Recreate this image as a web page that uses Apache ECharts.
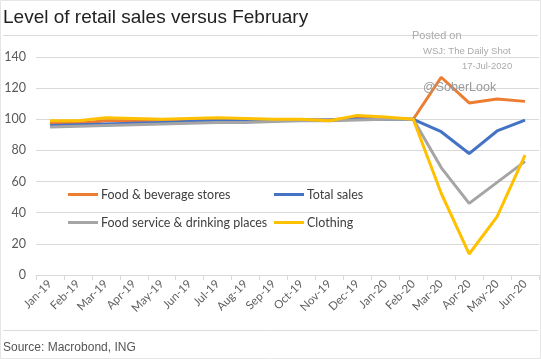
<!DOCTYPE html>
<html><head><meta charset="utf-8">
<script src="https://cdn.jsdelivr.net/npm/echarts@6/dist/echarts.min.js"></script>
<style>html,body{margin:0;padding:0;background:#fff}#c{width:541px;height:359px}</style>
</head><body><div id="c"></div>
<script>
const categories = ['Jan-19','Feb-19','Mar-19','Apr-19','May-19','Jun-19','Jul-19','Aug-19','Sep-19','Oct-19','Nov-19','Dec-19','Jan-20','Feb-20','Mar-20','Apr-20','May-20','Jun-20'];
const foodBeverage = [98, 97.5, 99, 99, 99.5, 99.5, 100, 100, 99.5, 99.5, 99.5, 101, 100.5, 100, 127, 110.5, 113, 111.5];
const totalSales = [96, 96.5, 97, 97.5, 98, 98.5, 99, 99, 99, 99.5, 99.5, 100, 100, 100, 92, 78, 92.5, 99.5];
const foodService = [95, 95.5, 96, 96.5, 97, 97.5, 98, 98, 98.5, 99, 99, 99.5, 100, 100, 69, 46, 59.5, 73];
const clothing = [99, 99, 101, 100.5, 100, 100.5, 101, 100.5, 100, 100, 99, 102.5, 101.5, 100, 52.5, 13.5, 37.5, 77];
const yTicks = [0, 20, 40, 60, 80, 100, 120, 140];

const FONT = 'Lato';
const chart = echarts.init(document.getElementById('c'), null, {renderer: 'canvas'});
function leg(name, left, top) {
  return {data: [name], left: left, top: top, icon: 'rect', itemWidth: 30, itemHeight: 3,
    itemGap: 0, padding: 0, selectedMode: false,
    textStyle: {fontFamily: FONT, fontSize: 12.5, color: '#404040', padding: [0, 0, 0, -2]}};
}
function ser(name, data, color) {
  return {name: name, type: 'line', data: data, symbol: 'none', color: color,
    lineStyle: {width: 3, color: color}, animation: false};
}
chart.setOption({
  animation: false,
  grid: {left: 36, right: 2, top: 57, bottom: 84},
  legend: [
    leg('Food & beverage stores', 68, 188),
    leg('Total sales', 274, 188),
    leg('Food service & drinking places', 68, 216),
    leg('Clothing', 274, 216)
  ],
  xAxis: {
    type: 'category', data: categories, boundaryGap: true,
    axisLine: {lineStyle: {color: '#d9d9d9', width: 1}},
    axisTick: {show: true, length: 5, lineStyle: {color: '#d9d9d9'}},
    axisLabel: {rotate: 45, interval: 0, fontFamily: FONT, fontSize: 11.5, color: '#5f5f5f', margin: 7}
  },
  yAxis: {
    type: 'value', min: yTicks[0], max: yTicks[yTicks.length - 1], interval: 20,
    axisLine: {show: false}, axisTick: {show: false},
    axisLabel: {fontFamily: FONT, fontSize: 12.5, color: '#595959', margin: 10},
    splitLine: {lineStyle: {color: '#d9d9d9', width: 1}}
  },
  series: [
    ser('Food & beverage stores', foodBeverage, '#ED7D31'),
    ser('Total sales', totalSales, '#4472C4'),
    ser('Food service & drinking places', foodService, '#A5A5A5'),
    ser('Clothing', clothing, '#FFC000')
  ],
  graphic: [
    {type: 'rect', shape: {x: 0.5, y: 0.5, width: 540, height: 358}, style: {fill: 'none', stroke: '#e6e6e6', lineWidth: 1}, silent: true},
    {type: 'text', left: 3, top: 8, style: {text: 'Level of retail sales versus February', font: '19px "Liberation Sans", Arial, sans-serif', fill: '#222'}},
    {type: 'line', shape: {x1: 3, y1: 35.5, x2: 538, y2: 35.5}, style: {stroke: '#dcdcdc', lineWidth: 1}},
    {type: 'line', shape: {x1: 3, y1: 330.5, x2: 538, y2: 330.5}, style: {stroke: '#dcdcdc', lineWidth: 1}},
    {type: 'text', left: 3, top: 342, style: {text: 'Source: Macrobond, ING', font: '12px "Liberation Sans", Arial, sans-serif', fill: '#555'}},
    {type: 'text', left: 412, top: 30, z: 100, style: {text: 'Posted on', font: '11px "Liberation Sans", Arial, sans-serif', fill: '#aaa'}},
    {type: 'text', left: 423, top: 46, z: 100, style: {text: 'WSJ: The Daily Shot', font: '9.5px "Liberation Sans", Arial, sans-serif', fill: '#aaa'}},
    {type: 'text', left: 462, top: 61, z: 100, style: {text: '17-Jul-2020', font: '9.5px "Liberation Sans", Arial, sans-serif', fill: '#aaa'}},
    {type: 'text', left: 423, top: 81, z: 100, style: {text: '@SoberLook', font: '12.5px "Liberation Sans", Arial, sans-serif', fill: '#9a9a9a'}}
  ]
});
</script>
</body></html>
